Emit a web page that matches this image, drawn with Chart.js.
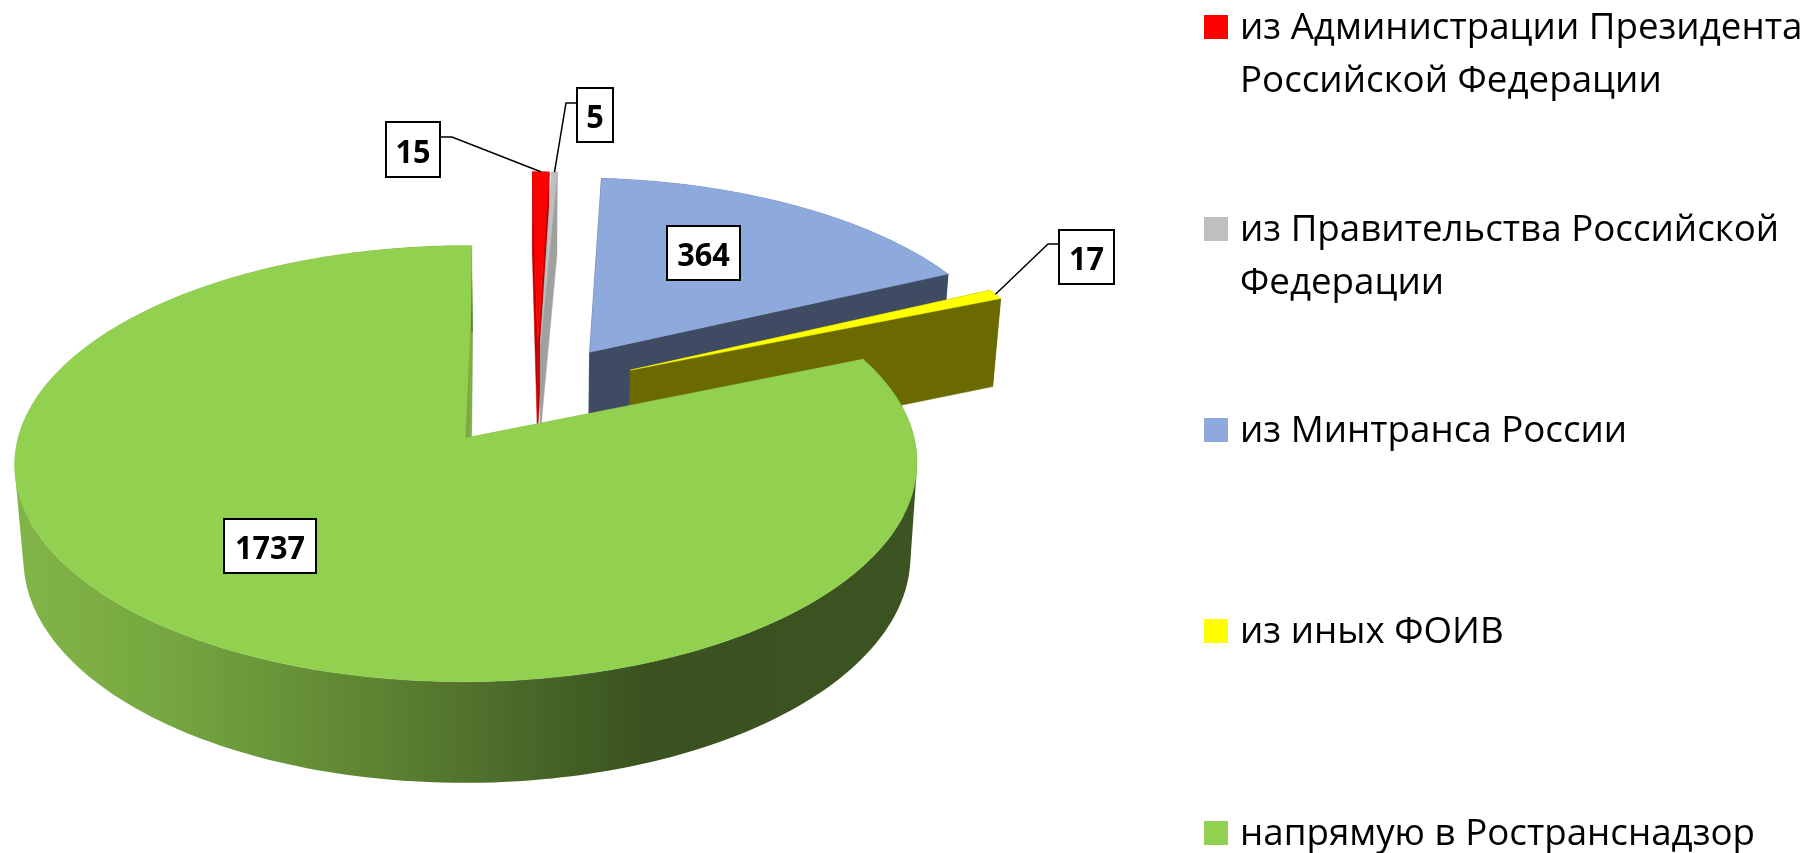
<!DOCTYPE html>
<html>
<head>
<meta charset="utf-8">
<script src="https://cdn.jsdelivr.net/npm/chart.js@4"></script>
<style>
  html, body { margin: 0; padding: 0; background: #fff; overflow: hidden; }
  canvas { display: block; }
</style>
</head>
<body>
<canvas id="myChart" width="1812" height="853"></canvas>
<script>
// chart data
const categories = [
  ['из Администрации Президента', 'Российской Федерации'],
  ['из Правительства Российской', 'Федерации'],
  ['из Минтранса России'],
  ['из иных ФОИВ'],
  ['напрямую в Ространснадзор']
];
const seriesValues = [15, 5, 364, 17, 1737];

// slice styles
const topColors = ['#ff0000', '#bfbfbf', '#8ea9db', '#ffff00', '#92d050'];
const wallColors = ['#c00000', '#a0a0a0', '#3f4b63', '#6b6a00', '#7da845'];
const explodePercent = [22.7, 22.7, 22.7, 24, 27.5];

// perspective of the pie plane, fitted to the picture
const apexX = 471, apexY = 438, radiusX = 448, radiusY = 215;
const tiltV = 0.121, tiltU = -0.008, shearV = -2;
const pieCenterU = 0.15, pieCenterV = -0.232;

// where the value boxes sit: x, y, w, h and the leader elbow (if any)
const labelBoxes = [
  { x: 386, y: 122, w: 54, h: 55, from: [440, 137], elbow: [452, 137] },
  { x: 577, y: 88, w: 36, h: 54, from: [577, 103], elbow: [566, 103] },
  { x: 667, y: 226, w: 73, h: 54 },
  { x: 1059, y: 230, w: 55, h: 54, from: [1059, 244], elbow: [1048, 244] },
  { x: 224, y: 519, w: 92, h: 54 }
];
const legendCenters = [27, 229, 430, 631, 833];

// top plane -> screen
function project(u, v) {
  const w = 1 - tiltV * v - tiltU * u;
  return [apexX + (radiusX * u + shearV * v) / w, apexY + radiusY * v / w];
}
// top plane screen point -> same point on the bottom of the pie
function drop(p) {
  return [apexX + 1 + 0.983 * (p[0] - apexX), 1.034 * p[1] + 78];
}

function slicePoints(el) {
  const mid = (el.startAngle + el.endAngle) / 2;
  const off = el.options.offset / 100;
  const cu = pieCenterU + off * Math.cos(mid);
  const cv = pieCenterV + off * Math.sin(mid);
  const steps = Math.max(4, Math.ceil((el.endAngle - el.startAngle) / 0.02));
  const arc = [];
  for (let i = 0; i <= steps; i++) {
    const a = el.startAngle + (el.endAngle - el.startAngle) * i / steps;
    arc.push(project(cu + Math.cos(a), cv + Math.sin(a)));
  }
  return {
    apex: project(cu, cv),
    arc: arc,
    anchor: project(cu + Math.cos(mid), cv + Math.sin(mid))
  };
}

function fillPoly(ctx, pts, fill) {
  ctx.beginPath();
  pts.forEach((p, i) => i ? ctx.lineTo(p[0], p[1]) : ctx.moveTo(p[0], p[1]));
  ctx.closePath();
  ctx.fillStyle = fill;
  ctx.strokeStyle = fill;
  ctx.lineWidth = 0.5;
  ctx.fill();
  ctx.stroke();
}

// outer wall as one path, every quad wound the same way so none cancels out
function fillWall(ctx, arc, fill) {
  ctx.beginPath();
  for (let n = 0; n < arc.length - 1; n++) {
    let q = [arc[n], arc[n + 1], drop(arc[n + 1]), drop(arc[n])];
    let area = 0;
    q.forEach((p, k) => {
      const r = q[(k + 1) % 4];
      area += p[0] * r[1] - r[0] * p[1];
    });
    if (area < 0) q = q.reverse();
    q.forEach((p, k) => k ? ctx.lineTo(p[0], p[1]) : ctx.moveTo(p[0], p[1]));
    ctx.closePath();
  }
  ctx.fillStyle = fill;
  ctx.fill();
}

function greenWallGradient(ctx) {
  const g = ctx.createLinearGradient(20, 0, 915, 0);
  g.addColorStop(0, '#82b548');
  g.addColorStop(0.17, '#75a640');
  g.addColorStop(0.38, '#5f8634');
  g.addColorStop(0.7, '#3a5220');
  g.addColorStop(1, '#3c5421');
  return g;
}

const pie3d = {
  id: 'pie3d',
  // the library has laid out the arcs, here they get projected instead of drawn flat
  beforeDatasetsDraw(chart) {
    const ctx = chart.ctx;
    const arcs = chart.getDatasetMeta(0).data;
    const shapes = arcs.map(slicePoints);

    arcs.forEach((el, i) => {
      const s = shapes[i];
      const first = s.arc[0], last = s.arc[s.arc.length - 1];
      const isGreen = i === arcs.length - 1;
      // radial walls
      fillPoly(ctx, [s.apex, first, drop(first), drop(s.apex)], wallColors[i]);
      fillPoly(ctx, [s.apex, last, drop(last), drop(s.apex)], wallColors[i]);
      fillWall(ctx, s.arc, isGreen ? greenWallGradient(ctx) : wallColors[i]);
      // top
      fillPoly(ctx, [s.apex].concat(s.arc), topColors[i]);
      // thin dark sliver next to the green's upper edge
      if (isGreen) {
        const t = 0.58;
        fillPoly(ctx, [
          s.apex,
          [s.apex[0] + (last[0] - s.apex[0]) * t, s.apex[1] + (last[1] - s.apex[1]) * t],
          [s.apex[0] - 4, s.apex[1]]
        ], wallColors[i]);
      }
    });

    // value boxes with leaders
    ctx.save();
    arcs.forEach((el, i) => {
      const box = labelBoxes[i];
      if (box.elbow) {
        ctx.beginPath();
        ctx.moveTo(box.from[0], box.from[1]);
        ctx.lineTo(box.elbow[0], box.elbow[1]);
        ctx.lineTo(shapes[i].anchor[0], shapes[i].anchor[1]);
        ctx.strokeStyle = '#000';
        ctx.lineWidth = 1.5;
        ctx.stroke();
      }
      ctx.fillStyle = '#fff';
      ctx.fillRect(box.x, box.y, box.w, box.h);
      ctx.strokeStyle = '#000';
      ctx.lineWidth = 2;
      ctx.strokeRect(box.x, box.y, box.w, box.h);
      ctx.fillStyle = '#000';
      ctx.font = 'bold 33px "Open Sans"';
      ctx.textAlign = 'center';
      ctx.textBaseline = 'middle';
      ctx.save();
      ctx.translate(box.x + box.w / 2, box.y + box.h / 2 + 4);
      ctx.scale(0.93, 1);
      ctx.fillText(String(seriesValues[i]), 0, 0);
      ctx.restore();
    });
    ctx.restore();

    // legend on the right
    ctx.save();
    ctx.textAlign = 'left';
    ctx.textBaseline = 'alphabetic';
    categories.forEach((lines, i) => {
      const cy = legendCenters[i];
      ctx.fillStyle = topColors[i];
      ctx.fillRect(1204, cy - 12, 24, 24);
      ctx.fillStyle = '#000';
      ctx.font = '36px "Open Sans"';
      lines.forEach((line, n) => {
        ctx.save();
        ctx.translate(1240, cy + 12 + n * 53);
        ctx.scale(1.02, 1);
        ctx.fillText(line, 0, 0);
        ctx.restore();
      });
    });
    ctx.restore();

    return false;
  }
};

new Chart('myChart', {
  type: 'pie',
  data: {
    labels: categories,
    datasets: [{
      data: seriesValues,
      backgroundColor: topColors,
      offset: explodePercent
    }]
  },
  options: {
    responsive: false,
    animation: false,
    plugins: {
      legend: { display: false },
      tooltip: { enabled: false }
    }
  },
  plugins: [pie3d]
});
</script>
</body>
</html>
